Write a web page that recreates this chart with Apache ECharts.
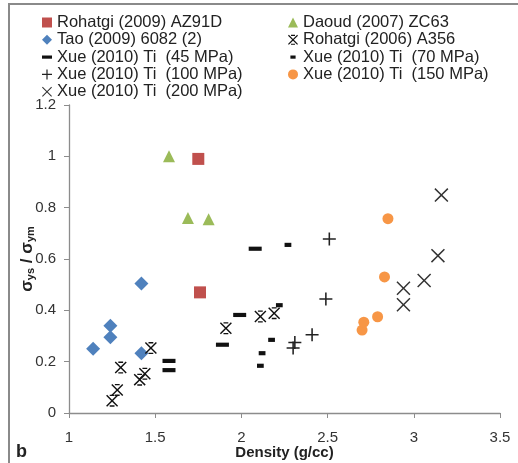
<!DOCTYPE html>
<html>
<head>
<meta charset="utf-8">
<script src="https://cdn.jsdelivr.net/npm/echarts@6/dist/echarts.min.js"></script>
<style>
  html, body { margin: 0; padding: 0; background: #fff; }
  #chart { width: 518px; height: 463px; }
</style>
</head>
<body>
<div id="chart"></div>
<script>
// data: [density g/cc, sigma ratio]
const xTicks = [1, 1.5, 2, 2.5, 3, 3.5];
const yTicks = [0, 0.2, 0.4, 0.6, 0.8, 1, 1.2];

const rohatgi2009 = [[1.75, 0.99], [1.76, 0.47]];
const daoud2007 = [[1.58, 1.0], [1.69, 0.76], [1.81, 0.755]];
const tao2009 = [[1.42, 0.505], [1.24, 0.34], [1.24, 0.295], [1.14, 0.25], [1.42, 0.233]];
const rohatgi2006 = [[1.30, 0.177], [1.28, 0.09], [1.25, 0.048], [1.41, 0.13], [1.44, 0.153],
  [1.475, 0.253], [1.91, 0.33], [2.11, 0.376], [2.19, 0.389]];
const xue45 = [[1.58, 0.203], [1.58, 0.167], [1.89, 0.266], [1.99, 0.382], [2.08, 0.64]];
const xue70 = [[2.11, 0.184], [2.12, 0.233], [2.175, 0.285], [2.22, 0.42], [2.27, 0.655]];
const xue100 = [[2.30, 0.253], [2.31, 0.275], [2.41, 0.305], [2.49, 0.444], [2.51, 0.678]];
const xue150 = [[2.70, 0.323], [2.71, 0.354], [2.79, 0.375], [2.83, 0.53], [2.85, 0.757]];
const xue200 = [[2.94, 0.422], [2.94, 0.486], [3.06, 0.516], [3.14, 0.613], [3.16, 0.849]];

const names = [
  'Rohatgi (2009) AZ91D', 'Daoud (2007) ZC63',
  'Tao (2009) 6082 (2)', 'Rohatgi (2006) A356',
  'Xue (2010) Ti  (45 MPa)', 'Xue (2010) Ti  (70 MPa)',
  'Xue (2010) Ti  (100 MPa)', 'Xue (2010) Ti  (150 MPa)',
  'Xue (2010) Ti  (200 MPa)'
];

// marker shapes, all in a 10x10 box
const BOX = 'M0,0 M10,10 ';
const DASH_LONG = 'path://' + BOX + 'M0,3.4 H10 V6.6 H0 Z';
const DASH_SHORT = 'path://' + BOX + 'M2.4,3.4 H7.6 V6.6 H2.4 Z';
const PLUS = 'path://M4.4,0 H5.6 V4.4 H10 V5.6 H5.6 V10 H4.4 V5.6 H0 V4.4 H4.4 Z';
const CROSS = 'path://M0,0.75 L0.75,0 L5,4.25 L9.25,0 L10,0.75 L5.75,5 L10,9.25 L9.25,10 L5,5.75 L0.75,10 L0,9.25 L4.25,5 Z';
const STAR = 'path://M0,0.85 L0.85,0 L5,4.15 L9.15,0 L10,0.85 L5.85,5 L10,9.15 L9.15,10 L5,5.85 L0.85,10 L0,9.15 L4.15,5 Z ' +
  'M3,0 H7 V1.1 H3 Z M3,8.9 H7 V10 H3 Z';

const RED = '#C0504D', GREEN = '#9BBB59', BLUE = '#4F81BD', ORANGE = '#F79646', BLACK = '#111';

const chart = echarts.init(document.getElementById('chart'));

function sc(name, data, symbol, size, color) {
  return {
    name: name,
    type: 'scatter',
    data: data,
    symbol: symbol,
    symbolSize: size,
    itemStyle: { color: color, opacity: 1 },
    z: 3
  };
}

const legendBase = {
  orient: 'vertical',
  top: 14,
  padding: 0,
  itemGap: 0.3,
  itemWidth: 10,
  itemHeight: 10,
  selectedMode: false,
  textStyle: { fontFamily: 'Liberation Sans', fontSize: 16.5, color: '#222', lineHeight: 17 }
};

const option = {
  animation: false,
  backgroundColor: '#fff',
  textStyle: { fontFamily: 'Liberation Sans' },
  graphic: [
    { type: 'rect', shape: { x: 9, y: 4, width: 600, height: 600 },
      style: { fill: 'none', stroke: '#8a8a8a', lineWidth: 2 }, silent: true },
    { type: 'text', left: 16, top: 443,
      style: { text: 'b', font: 'bold 18px Liberation Sans', fill: '#222' } }
  ],
  legend: [
    Object.assign({}, legendBase, {
      left: 42,
      data: [
        { name: names[0], icon: 'rect' },
        { name: names[2], icon: 'diamond' },
        { name: names[4], icon: DASH_LONG },
        { name: names[6], icon: PLUS },
        { name: names[8], icon: CROSS }
      ]
    }),
    Object.assign({}, legendBase, {
      left: 288,
      data: [
        { name: names[1], icon: 'triangle' },
        { name: names[3], icon: STAR },
        { name: names[5], icon: DASH_SHORT },
        { name: names[7], icon: 'circle' }
      ]
    })
  ],
  grid: { left: 69, right: 18, top: 105, bottom: 50, outerBoundsMode: 'none', containLabel: false },
  xAxis: {
    type: 'value',
    min: xTicks[0],
    max: xTicks[xTicks.length - 1],
    interval: 0.5,
    name: 'Density (g/cc)',
    nameLocation: 'middle',
    nameGap: 32,
    nameMoveOverlap: false,
    nameTextStyle: { fontFamily: 'Liberation Sans', fontSize: 15, fontWeight: 'bold', color: '#222' },
    axisLine: { show: true, lineStyle: { color: '#8c8c8c', width: 1.3 } },
    axisTick: { show: true, length: 5, lineStyle: { color: '#8c8c8c' } },
    axisLabel: { fontFamily: 'Liberation Sans', fontSize: 15, color: '#333', margin: 17 },
    splitLine: { show: false }
  },
  yAxis: {
    type: 'value',
    min: yTicks[0],
    max: yTicks[yTicks.length - 1],
    interval: 0.2,
    name: '{s|σ}{sub|ys}{s| / σ}{sub|ym}',
    nameLocation: 'middle',
    nameGap: 33,
    nameMoveOverlap: false,
    nameTextStyle: {
      color: '#222',
      rich: {
        s: { fontFamily: 'Liberation Sans', fontSize: 17, fontWeight: 'bold', color: '#222' },
        sub: { fontFamily: 'Liberation Sans', fontSize: 11, fontWeight: 'bold', color: '#222', padding: [7, 0, 0, 0] }
      }
    },
    axisLine: { show: true, lineStyle: { color: '#8c8c8c', width: 1.3 } },
    axisTick: { show: true, length: 5, lineStyle: { color: '#8c8c8c' } },
    axisLabel: { fontFamily: 'Liberation Sans', fontSize: 15, color: '#333', margin: 13 },
    splitLine: { show: false }
  },
  series: [
    sc(names[0], rohatgi2009, 'rect', 12, RED),
    sc(names[1], daoud2007, 'triangle', 12, GREEN),
    sc(names[2], tao2009, 'diamond', 14, BLUE),
    sc(names[3], rohatgi2006, STAR, 12, BLACK),
    sc(names[4], xue45, DASH_LONG, 13, BLACK),
    sc(names[5], xue70, DASH_SHORT, 13, BLACK),
    sc(names[6], xue100, PLUS, 13, '#222'),
    sc(names[7], xue150, 'circle', 11, ORANGE),
    sc(names[8], xue200, CROSS, 14, '#333')
  ]
};

chart.setOption(option);
</script>
</body>
</html>
